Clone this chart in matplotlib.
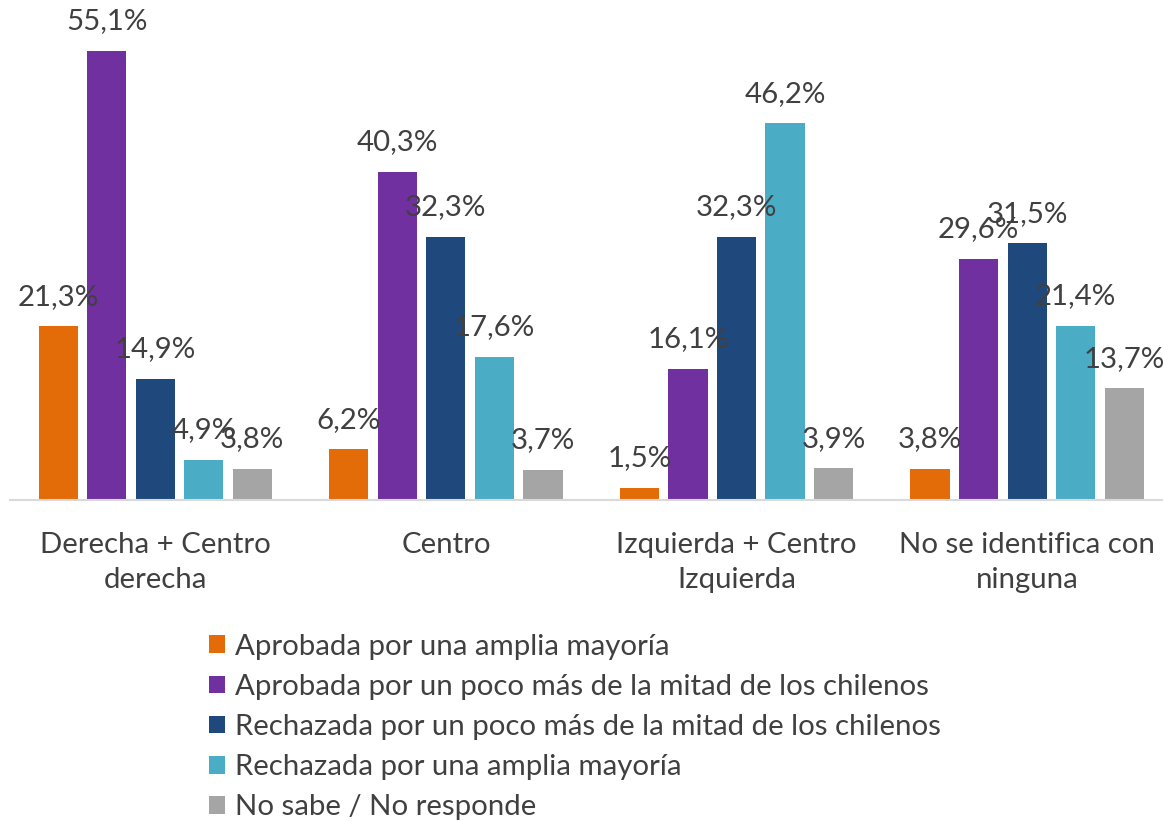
import matplotlib
matplotlib.use("Agg")
import matplotlib.pyplot as plt
import numpy as np

categories = ["Derecha + Centro\nderecha", "Centro", "Izquierda + Centro\nIzquierda", "No se identifica con\nninguna"]
series_names = [
    "Aprobada por una amplia mayoría",
    "Aprobada por un poco más de la mitad de los chilenos",
    "Rechazada por un poco más de la mitad de los chilenos",
    "Rechazada por una amplia mayoría",
    "No sabe / No responde",
]
aprobada_amplia = [21.3, 6.2, 1.5, 3.8]
aprobada_mitad = [55.1, 40.3, 16.1, 29.6]
rechazada_mitad = [14.9, 32.3, 32.3, 31.5]
rechazada_amplia = [4.9, 17.6, 46.2, 21.4]
no_sabe = [3.8, 3.7, 3.9, 13.7]
series_values = [aprobada_amplia, aprobada_mitad, rechazada_mitad, rechazada_amplia, no_sabe]
colors = ["#E36C09", "#7030A0", "#1F497D", "#4BACC6", "#A5A5A5"]

plt.rcParams['font.family'] = ['Lato', 'DejaVu Sans']
text_color = "#404040"
fs = 21.2

W, H = 1163, 821
fig = plt.figure(figsize=(W / 100, H / 100), dpi=100)
ax = fig.add_axes([10 / W, 1 - 500 / H, 1 - 10 / W, 489 / H])

x = np.arange(len(categories))
pitch = 0.167
width = 0.1345
for i, (name, vals, c) in enumerate(zip(series_names, series_values, colors)):
    pos = x + (i - 2) * pitch
    bars = ax.bar(pos, vals, width=width, color=c, label=name, zorder=2)
    for b, v in zip(bars, vals):
        ax.annotate(f"{v:.1f}%".replace(".", ","), (b.get_x() + b.get_width() / 2, v),
                    xytext=(0, 12), textcoords="offset points", ha="center", va="bottom",
                    fontsize=fs, color=text_color)

ax.set_ylim(0, 60)
ax.set_xlim(-0.5, (W - 10) / 290.6 - 0.5)
ax.set_yticks([])
for s in ["top", "right", "left"]:
    ax.spines[s].set_visible(False)
ax.spines["bottom"].set_color("#D9D9D9")
ax.spines["bottom"].set_linewidth(1.5)
ax.set_xticks(x)
ax.set_xticklabels(categories, fontsize=fs, color=text_color, linespacing=1.45)
ax.tick_params(axis="x", length=0, pad=23)

handles, labels = ax.get_legend_handles_labels()
leg = fig.legend(handles, labels, loc="upper left", bbox_to_anchor=(197 / W, 1 - 622 / H),
                 frameon=False, fontsize=fs, handlelength=0.55, handleheight=0.55,
                 handletextpad=0.33, labelspacing=0.48, borderaxespad=0)
for t in leg.get_texts():
    t.set_color(text_color)

fig.savefig("out.png", dpi=100)
